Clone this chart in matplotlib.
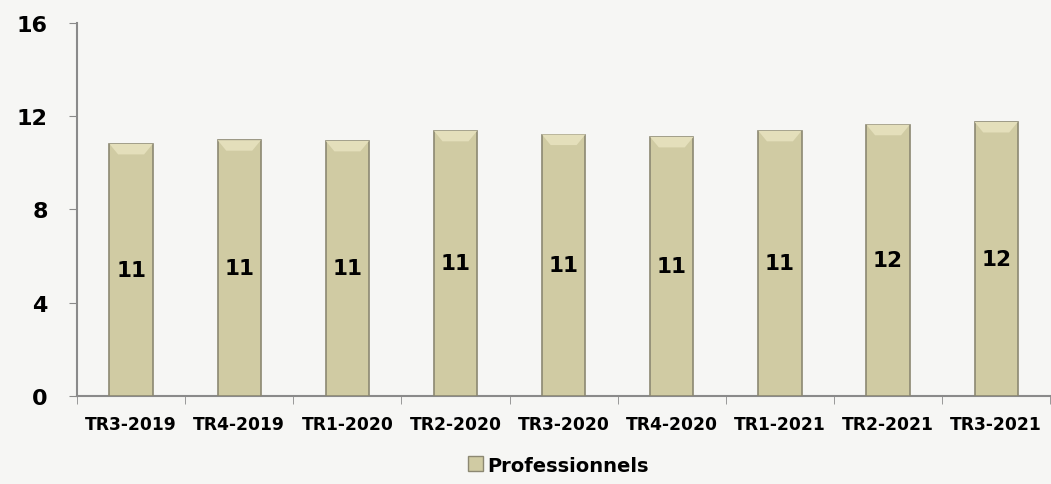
import numpy as np
import matplotlib.pyplot as plt
from matplotlib.patches import Patch, Polygon

trimestres = ['TR3-2019', 'TR4-2019', 'TR1-2020', 'TR2-2020', 'TR3-2020',
              'TR4-2020', 'TR1-2021', 'TR2-2021', 'TR3-2021']
professionnels = [10.8, 10.96, 10.93, 11.36, 11.2, 11.1, 11.36, 11.62, 11.74]
yticks = [0, 4, 8, 12, 16]

couleur_barre = '#d0cba3'
couleur_bord = '#8c8872'

plt.rcParams['font.family'] = ['DejaVu Sans']

fig = plt.figure(figsize=(10.51, 4.85), dpi=100)
fig.patch.set_facecolor('#f6f6f4')
ax = fig.add_axes([0.0733, 0.1814, 0.926, 0.7701])
ax.set_facecolor('none')

x = np.arange(len(trimestres))
larg = 0.4
barres = ax.bar(x, professionnels, width=larg, color=couleur_barre,
                edgecolor=couleur_bord, linewidth=1.2, zorder=3)

# reflet biseauté en haut de chaque barre
for xi, v in zip(x, professionnels):
    g, d = xi - larg / 2, xi + larg / 2
    ax.add_patch(Polygon([(g, v), (d, v), (d - 0.08, v - 0.45), (g + 0.08, v - 0.45)],
                         closed=True, facecolor='#e4dfbb', edgecolor='none', zorder=4))

for xi, v in zip(x, professionnels):
    ax.text(xi, v / 2, f"{round(v):d}", ha='center', va='center',
            fontsize=15.5, fontweight='bold', color='black', zorder=5)

ax.set_xlim(-0.5, len(trimestres) - 0.5)
ax.set_ylim(0, 16)
ax.set_yticks(yticks)
ax.set_yticklabels([str(t) for t in yticks], fontsize=16, fontweight='bold')
ax.set_xticks(x)
ax.set_xticklabels(trimestres, fontsize=12.3, fontweight='bold')
ax.set_xticks(np.arange(len(trimestres) + 1) - 0.5, minor=True)
ax.tick_params(axis='x', which='major', length=0, pad=14)
ax.tick_params(axis='x', which='minor', length=6, color='#8a8a8a', direction='out')
ax.tick_params(axis='y', length=6, color='#8a8a8a', direction='out', pad=15)

for s in ['top', 'right']:
    ax.spines[s].set_visible(False)
for s in ['left', 'bottom']:
    ax.spines[s].set_color('#8a8a8a')
    ax.spines[s].set_linewidth(1.5)

fig.legend(handles=[Patch(facecolor=couleur_barre, edgecolor=couleur_bord,
                          label='Professionnels')],
           loc='center', bbox_to_anchor=(0.531, 0.039), frameon=False,
           prop={'size': 14, 'weight': 'bold'}, handlelength=0.8,
           handleheight=0.8, handletextpad=0.2)

fig.savefig('out.png', dpi=100, facecolor=fig.get_facecolor())
